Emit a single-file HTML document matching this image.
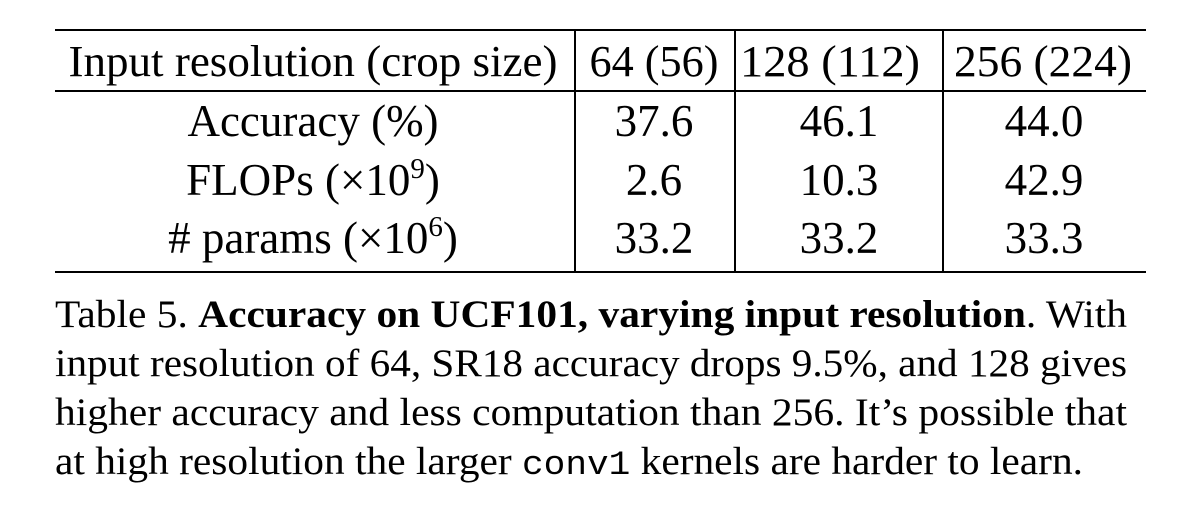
<!DOCTYPE html>
<html><head><meta charset="utf-8"><style>
html,body{margin:0;padding:0;background:#fff;}
svg{display:block;}
text{font-family:"Liberation Serif",serif;fill:#000;}
</style></head><body>
<svg width="1188" height="532" viewBox="0 0 1188 532">
<g stroke="#000" stroke-width="2">
<line x1="55" y1="30" x2="1146" y2="30"/>
<line x1="55" y1="91" x2="1146" y2="91"/>
<line x1="55" y1="272" x2="1146" y2="272"/>
<line x1="575" y1="30" x2="575" y2="272"/>
<line x1="735" y1="30" x2="735" y2="272"/>
<line x1="943" y1="30" x2="943" y2="272"/>
</g>
<g font-size="44" text-anchor="middle">
<text x="313" y="76" textLength="489" lengthAdjust="spacingAndGlyphs">Input resolution (crop size)</text>
<text x="654" y="76" textLength="129" lengthAdjust="spacingAndGlyphs">64 (56)</text>
<text x="830" y="76" textLength="180" lengthAdjust="spacingAndGlyphs">128 (112)</text>
<text x="1043" y="76" textLength="178" lengthAdjust="spacingAndGlyphs">256 (224)</text>
</g>
<g font-size="45" text-anchor="middle">
<text x="313" y="136">Accuracy (%)</text>
<text x="654" y="136">37.6</text>
<text x="839" y="136">46.1</text>
<text x="1044" y="136">44.0</text>
<text x="313" y="195">FLOPs (×10<tspan font-size="29" dy="-17">9</tspan><tspan dy="17">)</tspan></text>
<text x="654" y="195">2.6</text>
<text x="839" y="195">10.3</text>
<text x="1044" y="195">42.9</text>
<text x="313" y="253"># params (×10<tspan font-size="29" dy="-17">6</tspan><tspan dy="17">)</tspan></text>
<text x="654" y="253">33.2</text>
<text x="839" y="253">33.2</text>
<text x="1044" y="253">33.3</text>
</g>
<g font-size="39">
<text x="55" y="327" textLength="1072" lengthAdjust="spacingAndGlyphs">Table 5. <tspan font-weight="bold">Accuracy on UCF101, varying input resolution</tspan>. With</text>
<text x="55" y="376" textLength="1072" lengthAdjust="spacingAndGlyphs">input resolution of 64, SR18 accuracy drops 9.5%, and 128 gives</text>
<text x="55" y="425" textLength="1072" lengthAdjust="spacingAndGlyphs">higher accuracy and less computation than 256. It’s possible that</text>
<text x="55" y="474" textLength="1028" lengthAdjust="spacingAndGlyphs">at high resolution the larger <tspan font-family="Liberation Mono, monospace" font-size="34">conv1</tspan> kernels are harder to learn.</text>
</g>
</svg>
</body></html>
